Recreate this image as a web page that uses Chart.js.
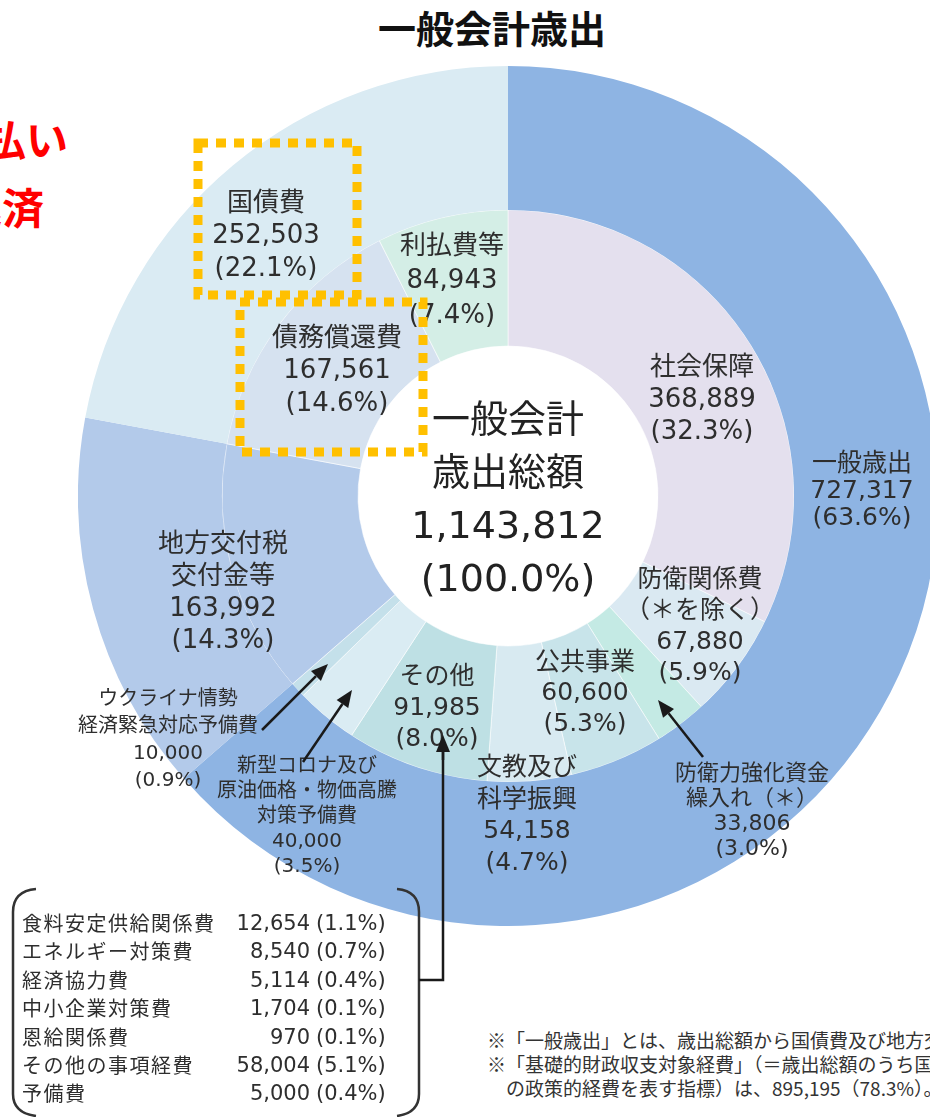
<!DOCTYPE html>
<html lang="ja">
<head>
<meta charset="utf-8">
<script src="https://cdn.jsdelivr.net/npm/chart.js@4.4.1/dist/chart.umd.min.js"></script>
<style>
  html, body { margin: 0; padding: 0; background: #fff; }
  body {
    width: 930px; height: 1117px; overflow: hidden; position: relative;
    font-family: "DejaVu Sans", "Noto Sans CJK JP", sans-serif; color: #2e2e2e;
  }
  #chartBox { position: absolute; left: 78px; top: 66px; width: 860px; height: 860px; }
  .lbl { position: absolute; transform: translateX(-50%); text-align: center; white-space: nowrap; }
  .title { position: absolute; left: 492px; top: 6px; transform: translateX(-50%);
    font-family: "Noto Sans CJK JP", sans-serif; font-weight: 700; font-size: 38px; line-height: 42px; color: #111; white-space: nowrap; }
  .red { position: absolute; font-family: "Noto Sans CJK JP", sans-serif; font-weight: 700;
    font-size: 42px; line-height: 46px; color: #ff0000; white-space: nowrap; text-align: right; }
  .row { position: absolute; font-size: 21px; line-height: 28px; white-space: nowrap; }
  .note { position: absolute; left: 487px; font-family: "Noto Sans CJK JP", sans-serif;
    font-size: 19px; line-height: 24px; white-space: nowrap; color: #333; }
  svg { position: absolute; left: 0; top: 0; }
</style>
</head>
<body>
<div class="title">一般会計歳出</div>
<div class="red" style="right: 862px; top: 115px;">利払い</div>
<div class="red" style="right: 886px; top: 183px;">返済</div>
<div id="chartBox"><canvas id="donut"></canvas></div>
<div id="labels"></div>
<svg id="overlay" width="930" height="1117"></svg>
<script>
// 単位: 億円
const outerLabels = ['一般歳出', '地方交付税交付金等', '国債費'];
const outerValues = [727317, 163992, 252503];
const outerColors = ['#8eb4e3', '#b3caea', '#daebf3'];

const innerLabels = ['社会保障', '防衛関係費（＊を除く）', '防衛力強化資金繰入れ（＊）', '公共事業',
  '文教及び科学振興', 'その他', '新型コロナ及び原油価格・物価高騰対策予備費',
  'ウクライナ情勢経済緊急対応予備費', '地方交付税交付金等', '債務償還費', '利払費等'];
const innerValues = [368889, 67880, 33806, 60600, 54158, 91985, 40000, 10000, 163992, 167561, 84943];
const innerColors = ['#e4e0ee', '#dae9f2', '#c4eae4', '#c8e4ea', '#d8eaf1', '#bee0e4',
  '#daecf3', '#c4e0ea', '#b3caea', '#d6e2f0', '#d4eee6'];

const otherLabels = ['食料安定供給関係費', 'エネルギー対策費', '経済協力費', '中小企業対策費',
  '恩給関係費', 'その他の事項経費', '予備費'];
const otherValues = [12654, 8540, 5114, 1704, 970, 58004, 5000];

const total = outerValues.reduce((a, b) => a + b, 0);
const fmt = v => v.toLocaleString('en-US');
const pct = v => (v / total * 100).toFixed(1);

new Chart(document.getElementById('donut'), {
  type: 'doughnut',
  data: {
    labels: innerLabels,
    datasets: [{
      label: '一般会計歳出',
      data: outerValues,
      backgroundColor: outerColors,
      borderWidth: 0,
      weight: 144
    }, {
      label: '内訳',
      data: innerValues,
      backgroundColor: innerColors,
      borderColor: 'rgba(255,255,255,0.55)',
      borderWidth: 1,
      weight: 136
    }]
  },
  options: {
    responsive: true,
    maintainAspectRatio: false,
    animation: false,
    cutout: 150,
    hoverOffset: 0,
    layout: { padding: 0 },
    plugins: {
      legend: { display: false },
      tooltip: { enabled: false }
    }
  }
});

// ラベル配置
const placements = [
  { src: 'outer', i: 0, name: ['一般歳出'], x: 862, y: 462, fs: 25, lh: 27 },
  { src: 'outer', i: 1, name: ['地方交付税', '交付金等'], x: 223, y: 543, fs: 26, lh: 32 },
  { src: 'outer', i: 2, name: ['国債費'], x: 266, y: 202, fs: 26, lh: 32.5 },
  { src: 'inner', i: 0, name: ['社会保障'], x: 702, y: 366, fs: 26, lh: 32 },
  { src: 'inner', i: 1, name: ['防衛関係費', '（＊を除く）'], x: 700, y: 578, fs: 25, lh: 31 },
  { src: 'inner', i: 2, name: ['防衛力強化資金', '繰入れ（＊）'], x: 752, y: 772, fs: 22, lh: 25 },
  { src: 'inner', i: 3, name: ['公共事業'], x: 585, y: 662, fs: 25, lh: 30.5 },
  { src: 'inner', i: 4, name: ['文教及び', '科学振興'], x: 527, y: 767, fs: 25, lh: 31.5 },
  { src: 'inner', i: 5, name: ['その他'], x: 437, y: 675, fs: 25, lh: 31 },
  { src: 'inner', i: 6, name: ['新型コロナ及び', '原油価格・物価高騰', '対策予備費'], x: 307, y: 765, fs: 20, lh: 25 },
  { src: 'inner', i: 7, name: ['ウクライナ情勢', '経済緊急対応予備費'], x: 168, y: 698, fs: 20, lh: 27 },
  { src: 'inner', i: 9, name: ['債務償還費'], x: 337, y: 337, fs: 26, lh: 32.5 },
  { src: 'inner', i: 10, name: ['利払費等'], x: 452, y: 245, fs: 26, lh: 34.5 }
];

const labelsEl = document.getElementById('labels');
function addLabel(lines, x, y, fs, lh, color) {
  const d = document.createElement('div');
  d.className = 'lbl';
  d.style.left = x + 'px';
  d.style.top = (y - lh / 2) + 'px';
  d.style.fontSize = fs + 'px';
  d.style.lineHeight = lh + 'px';
  if (color) d.style.color = color;
  d.innerHTML = lines.join('<br>');
  labelsEl.appendChild(d);
}

placements.forEach(p => {
  const v = p.src === 'outer' ? outerValues[p.i] : innerValues[p.i];
  addLabel(p.name.concat([fmt(v), '(' + pct(v) + '%)']), p.x, p.y, p.fs, p.lh);
});

addLabel(['一般会計', '歳出総額', fmt(total), '(100.0%)'], 508, 419, 38, 53, '#222');

// その他の内訳
otherLabels.forEach((name, k) => {
  const v = otherValues[k];
  const top = 909 + k * 28.4;
  const n = document.createElement('div');
  n.className = 'row';
  n.style.left = '22px'; n.style.top = top + 'px';
  n.style.fontFamily = '"Noto Sans CJK JP", sans-serif';
  n.style.fontSize = '20px'; n.style.letterSpacing = '1.5px';
  n.textContent = name;
  labelsEl.appendChild(n);
  const num = document.createElement('div');
  num.className = 'row';
  num.style.left = '210px'; num.style.width = '100px'; num.style.textAlign = 'right';
  num.style.top = top + 'px';
  num.textContent = fmt(v);
  labelsEl.appendChild(num);
  const pc = document.createElement('div');
  pc.className = 'row';
  pc.style.left = '316px'; pc.style.top = top + 'px';
  pc.textContent = '(' + pct(v) + '%)';
  labelsEl.appendChild(pc);
});

const notes = [
  '※「一般歳出」とは、歳出総額から国債費及び地方交付税交付金等を除いた経費のこと。',
  '※「基礎的財政収支対象経費」（＝歳出総額のうち国債費の一部を除いた経費のことであり、当年度',
  '　の政策的経費を表す指標）は、895,195（78.3%）。'
];
notes.forEach((t, k) => {
  const d = document.createElement('div');
  d.className = 'note';
  d.style.top = (1028 + k * 24) + 'px';
  d.textContent = t;
  labelsEl.appendChild(d);
});

// 注記・矢印
const svg = document.getElementById('overlay');
const NS = 'http://www.w3.org/2000/svg';
function el(tag, attrs) {
  const e = document.createElementNS(NS, tag);
  for (const k in attrs) e.setAttribute(k, attrs[k]);
  svg.appendChild(e);
  return e;
}
function arrow(x1, y1, x2, y2) {
  const a = Math.atan2(y2 - y1, x2 - x1);
  const L = 17, W = 7;
  const bx = x2 - L * Math.cos(a), by = y2 - L * Math.sin(a);
  el('line', { x1: x1, y1: y1, x2: bx, y2: by, stroke: '#1a1a1a', 'stroke-width': 2.5 });
  const px = -Math.sin(a) * W, py = Math.cos(a) * W;
  el('polygon', { points: `${x2},${y2} ${bx + px},${by + py} ${bx - px},${by - py}`, fill: '#1a1a1a' });
}

// ブラケット
el('path', { d: 'M36 889 Q13 891 13 912 L13 1094 Q13 1113 36 1116', fill: 'none', stroke: '#333', 'stroke-width': 2.5 });
el('path', { d: 'M397 889 Q419 891 419 912 L419 1094 Q419 1113 397 1116', fill: 'none', stroke: '#333', 'stroke-width': 2.5 });
el('polyline', { points: '419,980 443,980 443,752', fill: 'none', stroke: '#1a1a1a', 'stroke-width': 2.5 });
arrow(443, 760, 443, 735);
arrow(262, 730, 328, 664);
arrow(303, 762, 352, 690);
arrow(703, 757, 658, 700);

// 点線枠
el('rect', { x: 198, y: 143, width: 159, height: 152, fill: 'none', stroke: '#ffc000', 'stroke-width': 9, 'stroke-dasharray': '10 8' });
el('rect', { x: 240, y: 302, width: 183, height: 150, fill: 'none', stroke: '#ffc000', 'stroke-width': 9, 'stroke-dasharray': '10 8' });
</script>
</body>
</html>
